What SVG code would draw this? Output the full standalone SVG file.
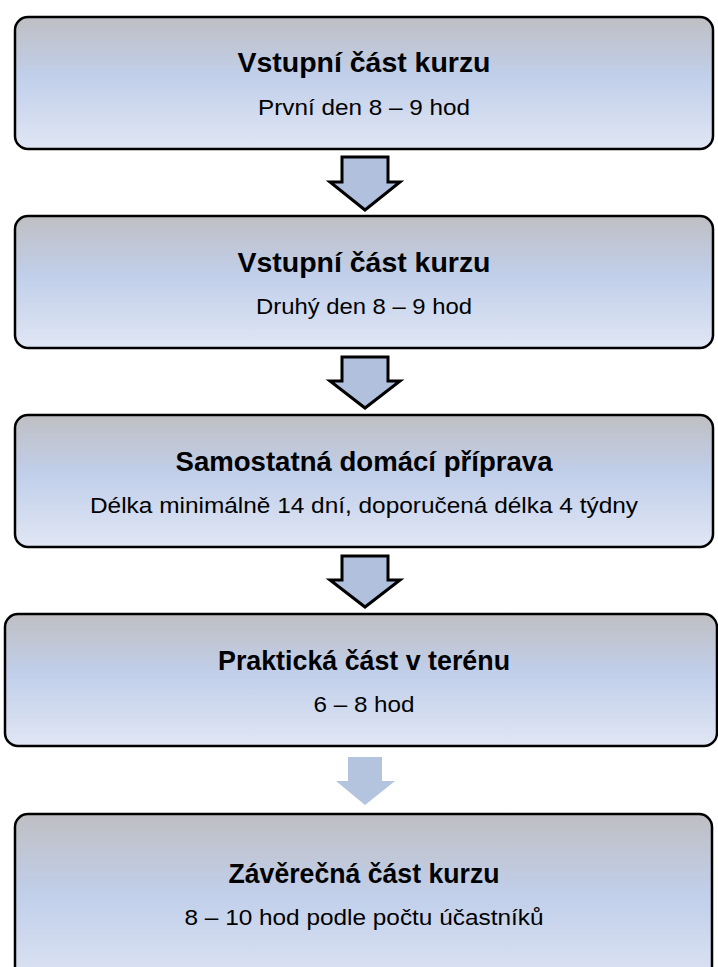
<svg xmlns="http://www.w3.org/2000/svg" width="718" height="967" viewBox="0 0 718 967">
  <defs>
    <linearGradient id="boxFill" x1="0" y1="0" x2="0" y2="1">
      <stop offset="0" stop-color="#bfbfc3"/>
      <stop offset="0.45" stop-color="#c1cfea"/>
      <stop offset="1" stop-color="#e0e6f4"/>
    </linearGradient>
    <style>
      .box { fill: url(#boxFill); stroke: #000; stroke-width: 2.5; }
      .title { font-family: "Liberation Sans", Arial, sans-serif; font-weight: bold; font-size: 28px; fill: #000; text-anchor: middle; }
      .sub { font-family: "Liberation Sans", Arial, sans-serif; font-size: 22.5px; fill: #000; text-anchor: middle; }
      .arrow { fill: #b0c0dd; stroke: #000; stroke-width: 3; stroke-linejoin: miter; }
      .arrow-plain { fill: #b4c3de; }
    </style>
  </defs>
  <rect width="718" height="967" fill="#ffffff"/>

  <!-- connectors: block arrows between the stages -->
  <g id="connectors">
    <polygon class="arrow" points="342,157 388,157 388,182 400,182 365,210 330,182 342,182"/>
    <polygon class="arrow" points="342,357 388,357 388,381 400,381 365,408 330,381 342,381"/>
    <polygon class="arrow" points="342,556 388,556 388,580 400,580 365,607 330,580 342,580"/>
    <polygon class="arrow-plain" points="348,757 382,757 382,781 395,781 365,805 336,781 348,781"/>
  </g>

  <g id="stage1">
    <rect class="box" x="15" y="17" width="698" height="132" rx="13"/>
    <text class="title" x="364" y="72" textLength="253" lengthAdjust="spacingAndGlyphs">Vstupní část kurzu</text>
    <text class="sub" x="364" y="115" textLength="212" lengthAdjust="spacingAndGlyphs">První den 8 – 9 hod</text>
  </g>

  <g id="stage2">
    <rect class="box" x="15" y="216" width="698" height="132" rx="13"/>
    <text class="title" x="364" y="272" textLength="253" lengthAdjust="spacingAndGlyphs">Vstupní část kurzu</text>
    <text class="sub" x="364" y="314" textLength="216" lengthAdjust="spacingAndGlyphs">Druhý den 8 – 9 hod</text>
  </g>

  <g id="stage3">
    <rect class="box" x="15" y="415" width="698" height="132" rx="13"/>
    <text class="title" x="364" y="471" textLength="377" lengthAdjust="spacingAndGlyphs">Samostatná domácí příprava</text>
    <text class="sub" x="364" y="513" textLength="548" lengthAdjust="spacingAndGlyphs">Délka minimálně 14 dní, doporučená délka 4 týdny</text>
  </g>

  <g id="stage4">
    <rect class="box" x="5" y="614" width="712" height="132" rx="13"/>
    <text class="title" x="364" y="670" textLength="292" lengthAdjust="spacingAndGlyphs">Praktická část v terénu</text>
    <text class="sub" x="364" y="712" textLength="101" lengthAdjust="spacingAndGlyphs">6 – 8 hod</text>
  </g>

  <g id="stage5">
    <rect class="box" x="15" y="814" width="697" height="180" rx="13"/>
    <text class="title" x="364" y="883" textLength="271" lengthAdjust="spacingAndGlyphs">Závěrečná část kurzu</text>
    <text class="sub" x="364" y="925" textLength="359" lengthAdjust="spacingAndGlyphs">8 – 10 hod podle počtu účastníků</text>
  </g>
</svg>
